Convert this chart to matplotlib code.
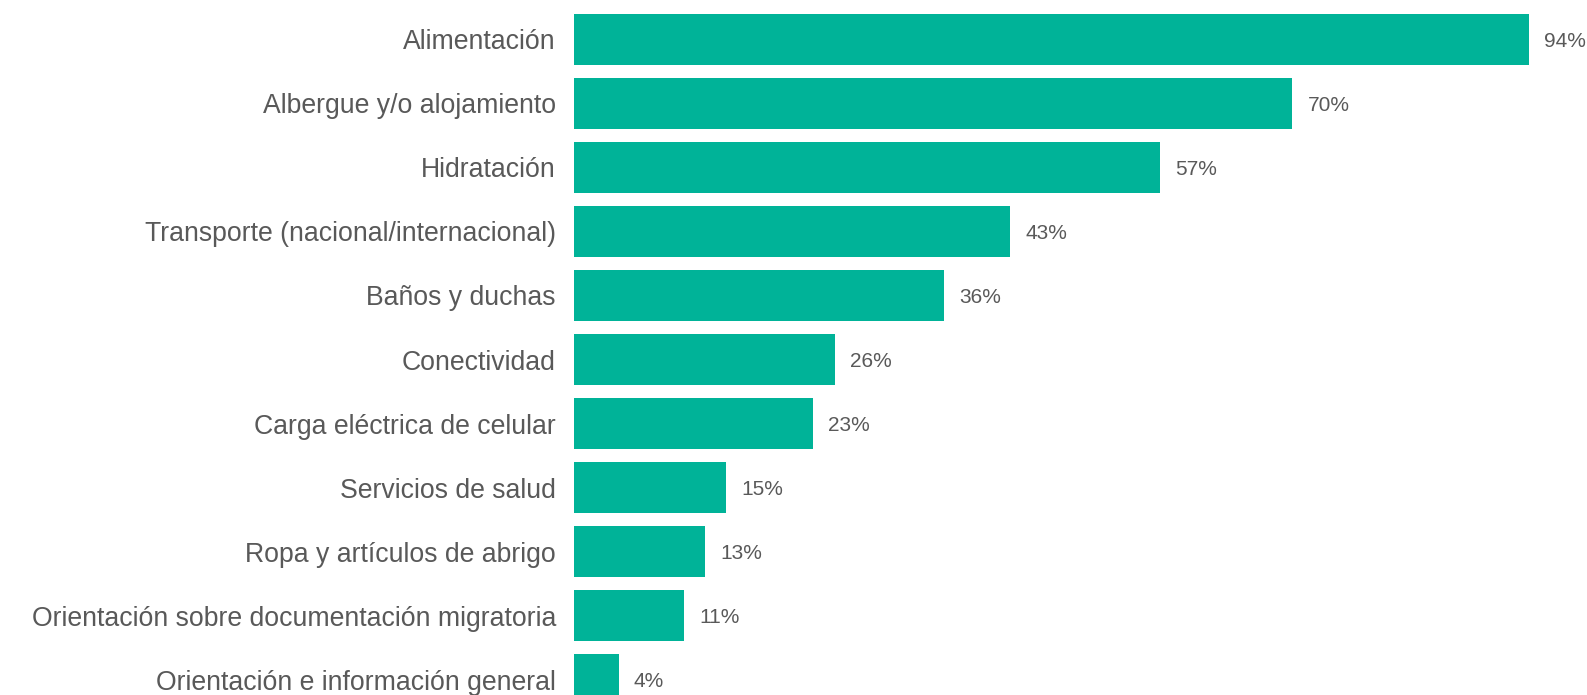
import matplotlib
matplotlib.use("Agg")
import matplotlib.pyplot as plt

categories = [
    "Alimentación",
    "Albergue y/o alojamiento",
    "Hidratación",
    "Transporte (nacional/internacional)",
    "Baños y duchas",
    "Conectividad",
    "Carga eléctrica de celular",
    "Servicios de salud",
    "Ropa y artículos de abrigo",
    "Orientación sobre documentación migratoria",
    "Orientación e información general",
]
values = [94, 70.7, 57.7, 42.9, 36.4, 25.7, 23.5, 15.0, 12.9, 10.8, 4.4]
labels = ["94%", "70%", "57%", "43%", "36%", "26%", "23%", "15%", "13%", "11%", "4%"]

plt.rcParams['font.family'] = ['Liberation Sans', 'DejaVu Sans']
grey = '#595959'

fig = plt.figure(figsize=(15.87, 6.95), dpi=100)
ax = fig.add_axes([574 / 1587, 0, 1 - 574 / 1587, 1])

pos = list(range(len(categories)))
ax.barh(pos, values, height=0.8, color='#00B398')
for p, v, t in zip(pos, values, labels):
    ax.text(v + 1.5, p, t, va='center_baseline', ha='left', fontsize=15, color=grey)

ax.set_xlim(0, 99.7)
ax.set_ylim(10.242, -0.617)
ax.set_yticks(pos)
ax.set_yticklabels(categories, fontsize=19.2, color=grey, va='center_baseline')
ax.tick_params(axis='y', length=0, pad=13)
ax.set_xticks([])
for s in ax.spines.values():
    s.set_visible(False)

fig.savefig('out.png', dpi=100)
